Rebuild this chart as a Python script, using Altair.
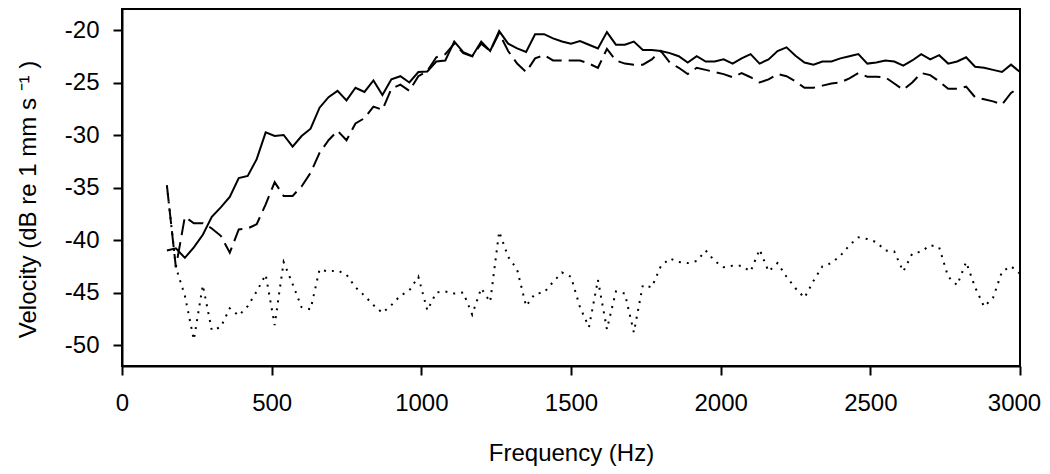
import altair as alt
import pandas as pd

freq = [150, 180, 210, 240, 270, 300, 330, 360, 390, 420,
        450, 480, 510, 540, 570, 600, 630, 660, 690, 720,
        750, 780, 810, 840, 870, 900, 930, 960, 990, 1020,
        1050, 1080, 1110, 1140, 1170, 1200, 1230, 1260, 1290, 1320,
        1350, 1380, 1410, 1440, 1470, 1500, 1530, 1560, 1590, 1620,
        1650, 1680, 1710, 1740, 1770, 1800, 1830, 1860, 1890, 1920,
        1950, 1980, 2010, 2040, 2070, 2100, 2130, 2160, 2190, 2220,
        2250, 2280, 2310, 2340, 2370, 2400, 2430, 2460, 2490, 2520,
        2550, 2580, 2610, 2640, 2670, 2700, 2730, 2760, 2790, 2820,
        2850, 2880, 2910, 2940, 2970, 3000]

solid = [-41.0, -40.8, -41.7, -40.7, -39.5, -37.8, -36.9, -35.9, -34.1, -33.9,
         -32.3, -29.75, -30.1, -30.0, -31.1, -30.1, -29.4, -27.4, -26.4, -25.8,
         -26.7, -25.5, -25.9, -24.8, -26.2, -24.7, -24.4, -25.0, -24.0, -23.95,
         -23.0, -22.9, -21.1, -22.1, -22.5, -21.1, -22.0, -20.1, -21.3, -21.75,
         -22.1, -20.4, -20.4, -20.8, -21.1, -21.3, -21.05, -21.4, -21.75, -20.2,
         -21.4, -21.4, -21.1, -21.9, -21.9, -22.0, -22.2, -22.5, -23.1, -22.5,
         -23.0, -23.0, -22.8, -23.2, -22.7, -22.3, -23.2, -22.8, -22.0, -21.65,
         -22.45, -23.1, -23.3, -23.0, -23.0, -22.7, -22.5, -22.3, -23.2, -23.1,
         -22.9, -23.0, -23.4, -22.9, -22.3, -22.8, -22.4, -23.2, -23.0, -22.6,
         -23.5, -23.6, -23.8, -24.0, -23.3, -24.0]

dashed = [-34.8, -42.6, -37.8, -38.4, -38.4, -38.9, -39.6, -41.2, -39.0, -38.9,
          -38.5, -36.6, -34.5, -35.8, -35.8, -34.9, -33.6, -31.7, -30.5, -29.6,
          -30.5, -28.9, -28.4, -27.3, -27.6, -25.6, -25.2, -25.8, -24.4, -23.9,
          -22.6, -22.3, -21.3, -22.2, -22.5, -21.3, -22.0, -20.3, -22.0, -23.2,
          -24.0, -22.7, -22.4, -22.9, -22.9, -22.9, -22.9, -23.2, -23.6, -21.8,
          -22.9, -23.2, -23.3, -23.3, -22.8, -22.0, -23.1, -23.6, -24.2, -23.6,
          -23.8, -24.0, -24.2, -24.5, -24.1, -24.5, -25.0, -24.7, -24.2, -24.4,
          -24.9, -25.5, -25.5, -25.3, -25.1, -25.0, -24.6, -24.1, -24.45, -24.45,
          -24.5, -25.1, -25.7, -25.0, -24.1, -24.3, -24.9, -25.6, -25.6, -25.4,
          -26.4, -26.6, -26.8, -27.1, -26.0, -25.4]

dotted = [-34.8, -42.6, -45.3, -49.5, -44.3, -48.6, -48.3, -46.5, -47.2, -46.3,
          -44.9, -43.3, -48.1, -42.1, -44.2, -46.4, -46.6, -42.8, -43.0, -42.9,
          -43.3, -44.5, -45.3, -46.2, -46.95, -46.2, -45.3, -44.8, -43.5, -46.7,
          -45.0, -44.9, -45.1, -45.0, -47.1, -44.6, -45.9, -39.2, -41.6, -42.8,
          -46.3, -45.1, -45.0, -44.0, -43.1, -43.5, -46.4, -48.3, -43.8, -48.5,
          -44.9, -45.1, -48.8, -44.3, -44.5, -42.5, -41.75, -42.1, -42.2, -42.0,
          -41.0, -42.0, -42.6, -42.45, -42.45, -43.0, -40.9, -43.0, -42.2, -43.5,
          -44.6, -45.5, -43.9, -42.5, -42.2, -41.5, -40.5, -39.75, -39.9, -40.2,
          -41.0, -41.1, -43.0, -41.3, -41.1, -40.5, -40.7, -43.5, -44.3, -42.1,
          -44.5, -46.35, -45.5, -43.0, -42.5, -43.2]

x_ticks = [0, 500, 1000, 1500, 2000, 2500, 3000]
y_ticks = [-50, -45, -40, -35, -30, -25, -20]

FONT = "Liberation Sans, Arial, sans-serif"

x_enc = alt.X(
    "Frequency:Q",
    scale=alt.Scale(domain=[0, 3000], nice=False, zero=False),
    axis=alt.Axis(
        values=x_ticks, title="Frequency (Hz)", grid=False,
        labelExpr="datum.value + ''",
        labelOffset={"condition": {"test": "datum.value == 3000", "value": -6}, "value": 0},
        labelFontSize=24, titleFontSize=24, labelFont=FONT, titleFont=FONT,
        titleFontWeight="normal", labelColor="black", titleColor="black",
        tickSize=9, tickWidth=2, tickColor="black", domainColor="black", domainWidth=2,
        labelPadding=16, labelFlush=False, labelOverlap=False,
        titleX=449, titleY=94, titleBaseline="alphabetic", titleAlign="center",
    ),
)
y_enc = alt.Y(
    "Velocity:Q",
    scale=alt.Scale(domain=[-52, -18], nice=False, zero=False),
    axis=alt.Axis(
        values=y_ticks, title="Velocity (dB re 1 mm s \u207b\u00b9 )", grid=False,
        labelExpr="datum.value + ''",
        labelFontSize=24, titleFontSize=24, labelFont=FONT, titleFont=FONT,
        titleFontWeight="normal", labelColor="black", titleColor="black",
        tickSize=9, tickWidth=2, tickColor="black", domainColor="black", domainWidth=2,
        labelPadding=14, labelFlush=False, labelOverlap=False,
        titleAngle=270, titleX=-87, titleY=190, titleBaseline="alphabetic", titleAlign="center",
    ),
)


def series(vals, dash=None):
    df = pd.DataFrame({"Frequency": freq, "Velocity": vals})
    kw = dict(color="black", strokeWidth=2, clip=True)
    if dash is not None:
        kw["strokeDash"] = dash
    return alt.Chart(df).mark_line(**kw).encode(x=x_enc, y=y_enc)


chart = alt.layer(
    series(dotted, [2, 6]),
    series(dashed, [16, 7]),
    series(solid),
).properties(
    width=898,
    height=357,
    autosize=alt.AutoSizeParams(type="none"),
    padding={"left": 114, "top": 1, "right": 22, "bottom": 100},
    background="white",
).configure_view(stroke="black", strokeWidth=2)

chart.save("out.html", embed_options={"renderer": "svg", "actions": False})
